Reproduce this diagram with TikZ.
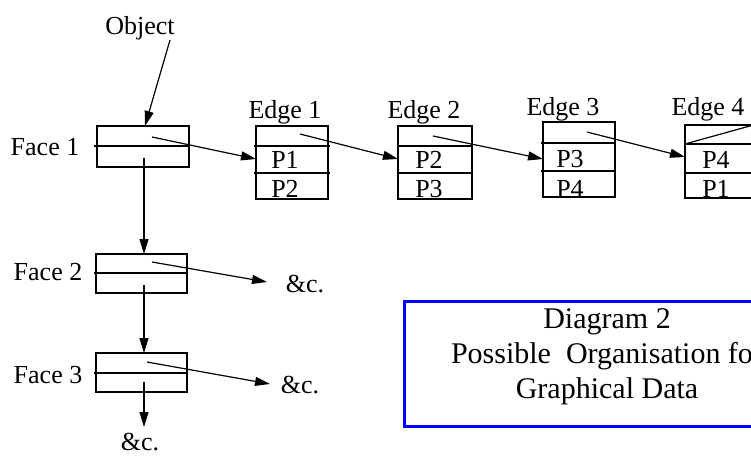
\documentclass[tikz,border=0pt]{standalone}
\usepackage{fontspec}
\setmainfont{Liberation Serif}
\usetikzlibrary{arrows.meta}
\begin{document}
\begin{tikzpicture}[x=1pt,y=-1pt,
  every node/.style={inner sep=0pt,outer sep=0pt},
  lbl/.style={anchor=base,font=\fontsize{26}{30}\selectfont},
  big/.style={anchor=base,font=\fontsize{30}{34}\selectfont},
  rec/.style={draw,line width=1.2pt,rectangle},
  ln/.style={line width=1.2pt},
  arr/.style={line width=1.2pt,-{Triangle[length=15pt,width=9pt]}}]
\useasboundingbox (0,0) rectangle (751,455);
\clip (0,0) rectangle (751,455);
% Face boxes
\node[rec,minimum width=92pt,minimum height=41pt] (f1) at (143,146.5) {};
\node[rec,minimum width=91pt,minimum height=39pt] (f2) at (141.5,273.5) {};
\node[rec,minimum width=91pt,minimum height=39pt] (f3) at (141.5,372.5) {};
\draw[ln] (94,146) -- (189,146);
\draw[ln] (94,273) -- (187,273);
\draw[ln] (94,373) -- (187,373);
% Edge boxes
\node[rec,minimum width=72pt,minimum height=73pt] (e1) at (292,162.5) {};
\node[rec,minimum width=74pt,minimum height=73pt] (e2) at (435,162.5) {};
\node[rec,minimum width=72pt,minimum height=75pt] (e3) at (579,159.5) {};
\node[rec,minimum width=72pt,minimum height=73pt] (e4) at (721,161.5) {};
\draw[ln] (254,146) -- (330,146);
\draw[ln] (254,173) -- (330,173);
\draw[ln] (398,146) -- (472,146);
\draw[ln] (398,173) -- (472,173);
\draw[ln] (541,143) -- (616,143);
\draw[ln] (541,171) -- (616,171);
\draw[ln] (685,144) -- (757,144);
\draw[ln] (685,173) -- (757,173);
\draw[ln] (685,144) -- (757,124);
% Labels
\node[lbl] (obj) at (140,34) {Object};
\node[lbl] (lf1) at (45,155) {Face 1};
\node[lbl] (lf2) at (48,280) {Face 2};
\node[lbl] (lf3) at (48,383) {Face 3};
\node[lbl] (le1) at (285,118) {Edge 1};
\node[lbl] (le2) at (424,118) {Edge 2};
\node[lbl] (le3) at (563,115) {Edge 3};
\node[lbl] (le4) at (708,115) {Edge 4};
\node[lbl] (p11) at (285,168) {P1};
\node[lbl] (p12) at (285,197) {P2};
\node[lbl] (p21) at (429,168) {P2};
\node[lbl] (p22) at (429,197) {P3};
\node[lbl] (p31) at (570,167) {P3};
\node[lbl] (p32) at (570,197) {P4};
\node[lbl] (p41) at (716,168) {P4};
\node[lbl] (p42) at (716,197) {P1};
\node[lbl] (c2) at (305,292) {\&c.};
\node[lbl] (c3) at (300,393) {\&c.};
\node[lbl] (c4) at (140,450) {\&c.};
% pointer coordinates
\coordinate (objs) at (170,40);
\coordinate (f1p) at (152,137);
\coordinate (e1p) at (300,134);
\coordinate (e2p) at (433,136);
\coordinate (e3p) at (587,132);
\coordinate (f2p) at (152,262);
\coordinate (f3p) at (147,362);
\coordinate (f1d) at (144,158);
\coordinate (f2d) at (144,285);
\coordinate (f3d) at (144,382);
\coordinate (c2t) at (267,282);
\coordinate (c3t) at (270,384);
\coordinate (c4t) at (144,427);
% connectors
\draw[arr] (objs) -- (f1.north -| 145,0);
\draw[arr] (f1p) -- (e1.west |- 0,159);
\draw[arr] (e1p) -- (e2.west |- 0,159);
\draw[arr] (e2p) -- (e3.west |- 0,159);
\draw[arr] (e3p) -- (e4.west |- 0,157);
\draw[arr] (f1d) -- (f2.north -| f1d);
\draw[arr] (f2d) -- (f3.north -| f2d);
\draw[arr] (f3d) -- (c4t);
\draw[arr] (f2p) -- (c2t);
\draw[arr] (f3p) -- (c3t);
% title box
\node[draw=blue,line width=3pt,minimum width=406pt,minimum height=125pt] (tb) at (607,363.5) {};
\node[big] (t1) at (607,328) {Diagram 2};
\node[big] (t2) at (607,363) {Possible\ \ Organisation for};
\node[big] (t3) at (607,398) {Graphical Data};
\end{tikzpicture}
\end{document}
